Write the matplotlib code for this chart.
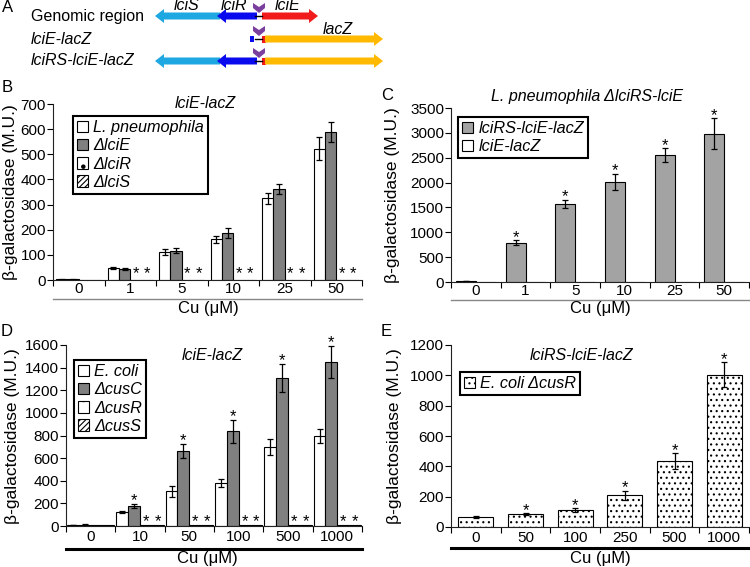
import matplotlib
matplotlib.use("Agg")
import matplotlib.pyplot as plt
import numpy as np
from matplotlib import patches, font_manager
from matplotlib.lines import Line2D

W, H = 750, 567

installed = {f.name for f in font_manager.fontManager.ttflist}
SANS = "Liberation Sans" if "Liberation Sans" in installed else "DejaVu Sans"
NARROW = "Liberation Sans Narrow" if "Liberation Sans Narrow" in installed else SANS
TICK_SIZE = 13 if NARROW != SANS else 11
plt.rcParams["font.family"] = [SANS, "DejaVu Sans"]
plt.rcParams["hatch.linewidth"] = 0.8

# ---- data -------------------------------------------------------------
# B: lciE-lacZ in L. pneumophila strains
b_conc = ["0", "1", "5", "10", "25", "50"]
b_wt = [2, 48, 112, 162, 325, 523]
b_wt_err = [1, 4, 12, 13, 22, 45]
b_lcie = [2, 45, 117, 188, 362, 587]
b_lcie_err = [1, 4, 11, 20, 20, 40]
b_lcir = [1, 1, 1, 1, 1, 1]
b_lcis = [1, 1, 1, 1, 1, 1]
b_star = [False, True, True, True, True, True]

# C: L. pneumophila dlciRS-lciE
c_conc = ["0", "1", "5", "10", "25", "50"]
c_rs = [20, 785, 1570, 2010, 2550, 2980]
c_rs_err = [5, 50, 80, 160, 140, 310]
c_e = [4, 4, 4, 4, 4, 4]
c_star = [False, True, True, True, True, True]

# D: lciE-lacZ in E. coli strains
d_conc = ["0", "10", "50", "100", "500", "1000"]
d_wt = [8, 122, 305, 380, 695, 795]
d_wt_err = [2, 10, 50, 35, 70, 60]
d_cusc = [12, 178, 662, 838, 1308, 1452]
d_cusc_err = [2, 18, 65, 100, 125, 140]
d_cusr = [10, 8, 8, 8, 8, 8]
d_cuss = [10, 8, 8, 8, 8, 8]
d_star = [False, True, True, True, True, True]

# E: lciRS-lciE-lacZ in E. coli dcusR
e_conc = ["0", "50", "100", "250", "500", "1000"]
e_vals = [65, 85, 112, 210, 435, 1005]
e_err = [6, 5, 10, 30, 50, 80]
e_star = [False, True, True, True, True, True]

# A: schematic, gene extents in pixels (start -> end gives direction)
row_y = [16, 39, 61]
row_names = ["Genomic region", "lciE-lacZ", "lciRS-lciE-lacZ"]
lcis_span = (220, 155)
lcir_span = (257, 217)
lcie_span = (262, 318)
lacz_span = (265, 383)

C_LCIS, C_LCIR, C_LCIE, C_LACZ, C_PURPLE = "#1fa7e1", "#0a0aee", "#f21b1b", "#ffb900", "#7b3f9e"
GRAY_DARK, GRAY_LIGHT = "#808080", "#a3a3a3"

fig = plt.figure(figsize=(W / 100, H / 100), dpi=100)


def px_axes(x0, y0, x1, y1):
    return fig.add_axes([x0 / W, 1 - y1 / H, (x1 - x0) / W, (y1 - y0) / H])


def txt(x, y, s, **kw):
    kw.setdefault("ha", "center")
    kw.setdefault("va", "center")
    return fig.text(x / W, 1 - y / H, s, **kw)


def fig_line(x0, x1, y, color, lw):
    fig.add_artist(Line2D([x0 / W, x1 / W], [1 - y / H, 1 - y / H],
                          transform=fig.transFigure, color=color, lw=lw))


def setup_axes(ax, labels, ymax, ystep, pad):
    n = len(labels)
    ax.set_xlim(0, n)
    ax.set_ylim(0, ymax)
    ax.set_yticks(np.arange(0, ymax + 1, ystep))
    ax.set_xticks(np.arange(n) + 0.5, labels)
    ax.set_xticks(np.arange(n + 1), minor=True)
    ax.tick_params(axis="x", which="major", length=0, pad=pad, labelsize=TICK_SIZE)
    ax.tick_params(axis="x", which="minor", length=4, width=0.8, direction="out")
    ax.tick_params(axis="y", length=4, width=0.8, pad=1, labelsize=TICK_SIZE)
    for s in ("top", "right"):
        ax.spines[s].set_visible(False)
    for s in ("left", "bottom"):
        ax.spines[s].set_linewidth(0.8)
        ax.spines[s].set_color("#222222")
    for lbl in ax.get_xticklabels() + ax.get_yticklabels():
        lbl.set_fontfamily(NARROW)


def bars(ax, x, vals, width, color, err=None, hatch=None):
    ax.bar(x, vals, width, color=color, edgecolor="black", linewidth=0.8,
           hatch=hatch, yerr=err,
           error_kw=dict(ecolor="black", elinewidth=0.9, capsize=2.5, capthick=0.9))


def stars(ax, x, tops, flags, dy=-1):
    for xi, t, f in zip(x, tops, flags):
        if f:
            ax.annotate("*", (xi, t), xytext=(0, dy), textcoords="offset points",
                        ha="center", va="baseline", fontsize=12)


def legend(ax, handles, labels, x, y, size=11.7):
    leg = ax.legend(handles, labels, loc="upper left",
                    bbox_to_anchor=(x / W, 1 - y / H), bbox_transform=fig.transFigure,
                    borderaxespad=0, fancybox=False, edgecolor="black", framealpha=1,
                    borderpad=0.25, handlelength=0.7, handleheight=0.7,
                    handletextpad=0.3, labelspacing=0.2,
                    prop=dict(style="italic", size=size))
    leg.get_frame().set_linewidth(1.5)
    return leg


def swatch(color, hatch=None):
    return patches.Patch(facecolor=color, edgecolor="black", hatch=hatch, lw=0.8)


# ---- panel A ----------------------------------------------------------
ax_a = fig.add_axes([0, 1 - 72 / H, 1, 72 / H])
ax_a.set_xlim(0, W)
ax_a.set_ylim(72, 0)
ax_a.axis("off")


def gene(span, y, color):
    x0, x1 = span
    ax_a.add_patch(patches.FancyArrow(x0, y, x1 - x0, 0, width=7, head_width=14,
                                      head_length=9, length_includes_head=True,
                                      color=color, lw=0))


def chevron(x, top):
    pts = [(x - 6, top), (x, top + 4), (x + 6, top), (x + 6, top + 5),
           (x, top + 10), (x - 6, top + 5)]
    ax_a.add_patch(patches.Polygon(pts, closed=True, color=C_PURPLE, lw=0))


for y in row_y:
    ax_a.plot([255, 262], [y, y], color="black", lw=1)
    chevron(259, y - 13)

gene(lcis_span, row_y[0], C_LCIS)
gene(lcir_span, row_y[0], C_LCIR)
gene(lcie_span, row_y[0], C_LCIE)

ax_a.add_patch(patches.Rectangle((250, row_y[1] - 3), 4, 6, color=C_LCIR, lw=0))
ax_a.add_patch(patches.Rectangle((262, row_y[1] - 3.5), 4, 7, color=C_LCIE, lw=0))
gene(lacz_span, row_y[1], C_LACZ)

gene(lcis_span, row_y[2], C_LCIS)
gene(lcir_span, row_y[2], C_LCIR)
ax_a.add_patch(patches.Rectangle((262, row_y[2] - 3.5), 4, 7, color=C_LCIE, lw=0))
gene(lacz_span, row_y[2], C_LACZ)

txt(8, 8, "A", fontsize=12)
for name, y in zip(row_names, row_y):
    txt(31, y, name, ha="left", fontsize=11.5,
        style="normal" if name.startswith("Genomic") else "italic")
txt(187, 6, "lciS", fontsize=11.5, style="italic")
txt(234, 6, "lciR", fontsize=11.5, style="italic")
txt(288, 6, "lciE", fontsize=11.5, style="italic")
txt(338, 29, "lacZ", fontsize=11.5, style="italic")

# ---- panel B ----------------------------------------------------------
ax_b = px_axes(53, 104, 362, 280)
xb = np.arange(len(b_conc)) + 0.5
wb = 0.22
bars(ax_b, xb - 1.5 * wb, b_wt, wb, "white", b_wt_err)
bars(ax_b, xb - 0.5 * wb, b_lcie, wb, GRAY_DARK, b_lcie_err)
bars(ax_b, xb + 0.5 * wb, b_lcir, wb, "white", hatch=".")
bars(ax_b, xb + 1.5 * wb, b_lcis, wb, "white", hatch="//////")
stars(ax_b, xb + 0.5 * wb, b_lcir, b_star, dy=1.5)
stars(ax_b, xb + 1.5 * wb, b_lcis, b_star, dy=1.5)
setup_axes(ax_b, b_conc, 700, 100, 1.5)
legend(ax_b, [swatch("white"), swatch(GRAY_DARK), swatch("white", "."), swatch("white", "//////")],
       ["L. pneumophila", "ΔlciE", "ΔlciR", "ΔlciS"], 73, 116)
txt(7, 87, "B", fontsize=12)
txt(205, 104, "lciE-lacZ", fontsize=11.5, style="italic")
txt(11, 192, "β-galactosidase (M.U.)", rotation=90, fontsize=12.5)
fig_line(53, 362, 299, "#888888", 1.0)
txt(208, 309, "Cu (μM)", fontsize=12)

# ---- panel C ----------------------------------------------------------
ax_c = px_axes(451, 108, 749, 282)
xc = np.arange(len(c_conc)) + 0.5
wc = 0.4
bars(ax_c, xc - 0.5 * wc, c_rs, wc, GRAY_LIGHT, c_rs_err)
bars(ax_c, xc + 0.5 * wc, c_e, wc, "white")
stars(ax_c, xc - 0.5 * wc, np.add(c_rs, c_rs_err), c_star)
setup_axes(ax_c, c_conc, 3500, 500, 1.5)
legend(ax_c, [swatch(GRAY_LIGHT), swatch("white")],
       ["lciRS-lciE-lacZ", "lciE-lacZ"], 458, 117)
txt(387, 96, "C", fontsize=12)
txt(587, 96, "L. pneumophila ΔlciRS-lciE", fontsize=11.5, style="italic")
txt(393, 195, "β-galactosidase (M.U.)", rotation=90, fontsize=12.5)
fig_line(451, 749, 300, "#888888", 1.0)
txt(600, 309, "Cu (μM)", fontsize=12)

# ---- panel D ----------------------------------------------------------
ax_d = px_axes(66, 345, 362, 526)
xd = np.arange(len(d_conc)) + 0.5
wd = 0.24
bars(ax_d, xd - 1.5 * wd, d_wt, wd, "white", d_wt_err)
bars(ax_d, xd - 0.5 * wd, d_cusc, wd, GRAY_DARK, d_cusc_err)
bars(ax_d, xd + 0.5 * wd, d_cusr, wd, "white", hatch=".")
bars(ax_d, xd + 1.5 * wd, d_cuss, wd, "white", hatch="//////")
stars(ax_d, xd - 0.5 * wd, np.add(d_cusc, d_cusc_err), d_star)
stars(ax_d, xd + 0.5 * wd, d_cusr, d_star)
stars(ax_d, xd + 1.5 * wd, d_cuss, d_star)
setup_axes(ax_d, d_conc, 1600, 200, 3)
legend(ax_d, [swatch("white"), swatch(GRAY_DARK), swatch("white", "."), swatch("white", "//////")],
       ["E. coli", "ΔcusC", "ΔcusR", "ΔcusS"], 74, 360)
txt(7, 332, "D", fontsize=12)
txt(212, 356, "lciE-lacZ", fontsize=11.5, style="italic")
txt(13, 436, "β-galactosidase (M.U.)", rotation=90, fontsize=12.5)
fig_line(66, 362, 549, "black", 2.2)
txt(207, 558, "Cu (μM)", fontsize=12)

# ---- panel E ----------------------------------------------------------
ax_e = px_axes(451, 345, 749, 527)
xe = np.arange(len(e_conc)) + 0.5
bars(ax_e, xe, e_vals, 0.7, "white", e_err, hatch="...")
stars(ax_e, xe, np.add(e_vals, e_err), e_star)
setup_axes(ax_e, e_conc, 1200, 200, 3)
legend(ax_e, [swatch("white", "...")], ["E. coli ΔcusR"], 460, 372)
txt(386, 332, "E", fontsize=12)
txt(582, 356, "lciRS-lciE-lacZ", fontsize=11.5, style="italic")
txt(394, 436, "β-galactosidase (M.U.)", rotation=90, fontsize=12.5)
fig_line(451, 749, 548, "black", 2.2)
txt(600, 558, "Cu (μM)", fontsize=12)

fig.savefig("out.png", dpi=100)
